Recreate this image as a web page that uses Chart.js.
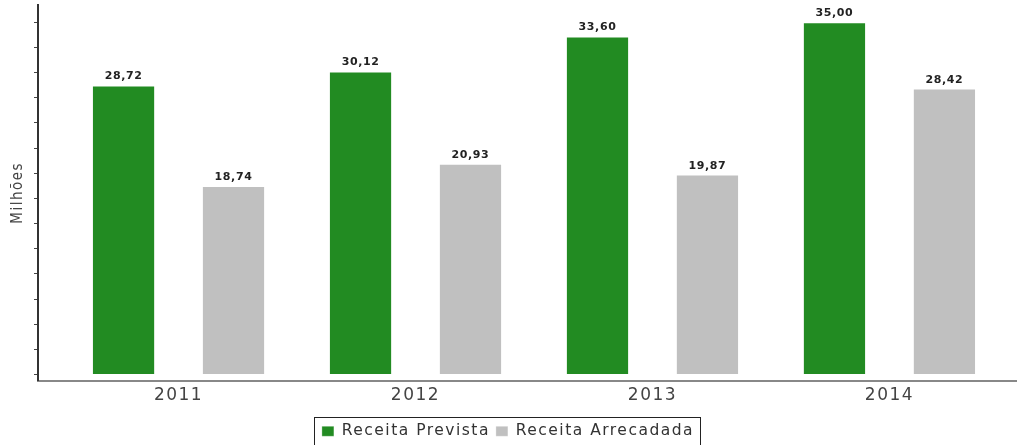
<!DOCTYPE html>
<html>
<head>
<meta charset="utf-8">
<title>Receita Prevista x Receita Arrecadada</title>
<script src="https://cdn.jsdelivr.net/npm/chart.js@4.4.0/dist/chart.umd.min.js"></script>
<style>
html, body { margin: 0; padding: 0; background: #fff; }
canvas { display: block; }
</style>
</head>
<body>
<canvas id="grafico" width="1018" height="445"></canvas>
<script>
// valores em milhões
const anos = [2011, 2012, 2013, 2014];
const receitaPrevista = [28.72, 30.12, 33.60, 35.00];
const receitaArrecadada = [18.74, 20.93, 19.87, 28.42];
const marcasY = [0, 2.5, 5, 7.5, 10, 12.5, 15, 17.5, 20, 22.5, 25, 27.5, 30, 32.5, 35];

// texto um pouco mais espaçado em todo o gráfico
const espacamento = {
  id: 'espacamento',
  beforeLayout(chart) { chart.ctx.letterSpacing = '1.5px'; },
  beforeDraw(chart) { chart.ctx.letterSpacing = '1.5px'; }
};

// valor em cima de cada barra
const rotulos = {
  id: 'rotulos',
  afterDatasetsDraw(chart) {
    const ctx = chart.ctx;
    ctx.save();
    ctx.letterSpacing = '0.6px';
    ctx.font = 'bold 11px "DejaVu Sans"';
    ctx.fillStyle = '#222';
    ctx.textAlign = 'center';
    ctx.textBaseline = 'alphabetic';
    chart.data.datasets.forEach((ds, i) => {
      chart.getDatasetMeta(i).data.forEach((barra, j) => {
        ctx.fillText(ds.data[j].toFixed(2).replace('.', ','), barra.x, barra.y - 6);
      });
    });
    ctx.restore();
  }
};

// borda em volta da legenda
const moldura = {
  id: 'moldura',
  afterDraw(chart) {
    const caixas = chart.legend && chart.legend.legendHitBoxes;
    if (!caixas || !caixas.length) return;
    const esq = Math.min(...caixas.map(c => c.left)) - 8;
    const dir = Math.max(...caixas.map(c => c.left + c.width)) + 6;
    const topo = caixas[0].top - 7;
    const base = caixas[0].top + caixas[0].height + 10;
    const ctx = chart.ctx;
    ctx.save();
    ctx.strokeStyle = '#222';
    ctx.lineWidth = 1;
    ctx.strokeRect(Math.round(esq) + 0.5, Math.round(topo) + 0.5, Math.round(dir - esq), Math.round(base - topo));
    ctx.restore();
  }
};

new Chart(document.getElementById('grafico'), {
  type: 'bar',
  data: {
    labels: anos,
    datasets: [
      {
        label: 'Receita Prevista',
        data: receitaPrevista,
        backgroundColor: '#228b22',
        borderColor: 'rgba(255,255,255,0.3)',
        borderWidth: 1,
        borderSkipped: 'bottom',
        categoryPercentage: 0.928,
        barPercentage: 0.575
      },
      {
        label: 'Receita Arrecadada',
        data: receitaArrecadada,
        backgroundColor: '#c0c0c0',
        borderColor: 'rgba(255,255,255,0.3)',
        borderWidth: 1,
        borderSkipped: 'bottom',
        categoryPercentage: 0.928,
        barPercentage: 0.575
      }
    ]
  },
  options: {
    responsive: false,
    animation: false,
    layout: { padding: { top: 5, right: 2, bottom: -4, left: 0 } },
    plugins: {
      tooltip: { enabled: false },
      legend: {
        position: 'bottom',
        labels: {
          boxWidth: 12,
          boxHeight: 10,
          padding: 6,
          color: '#333',
          font: { family: 'DejaVu Sans', size: 15.5 }
        }
      }
    },
    scales: {
      x: {
        type: 'linear',
        offset: false,
        min: 2010.407,
        max: 2014.534,
        afterBuildTicks: s => { s.ticks = anos.map(v => ({ value: v })); },
        afterFit: s => { s.height = 37; },
        grid: { display: false, drawTicks: false, offset: false },
        border: { color: '#888', width: 2 },
        ticks: {
          padding: 5,
          color: '#444',
          font: { family: 'DejaVu Sans', size: 17 },
          callback: v => String(v)
        }
      },
      y: {
        min: -0.6,
        max: 36.72,
        afterBuildTicks: s => { s.ticks = marcasY.map(v => ({ value: v })); },
        afterFit: s => { s.width = 38; },
        grid: { drawOnChartArea: false, drawTicks: true, tickLength: 4, color: '#444' },
        border: { color: '#333', width: 2 },
        ticks: { display: false },
        title: {
          display: true,
          text: 'Milhões',
          color: '#444',
          padding: { top: 9, bottom: 0 },
          font: { family: "'Liberation Sans Narrow', 'DejaVu Sans Condensed', sans-serif", size: 15 }
        }
      }
    }
  },
  plugins: [espacamento, rotulos, moldura]
});
</script>
</body>
</html>
